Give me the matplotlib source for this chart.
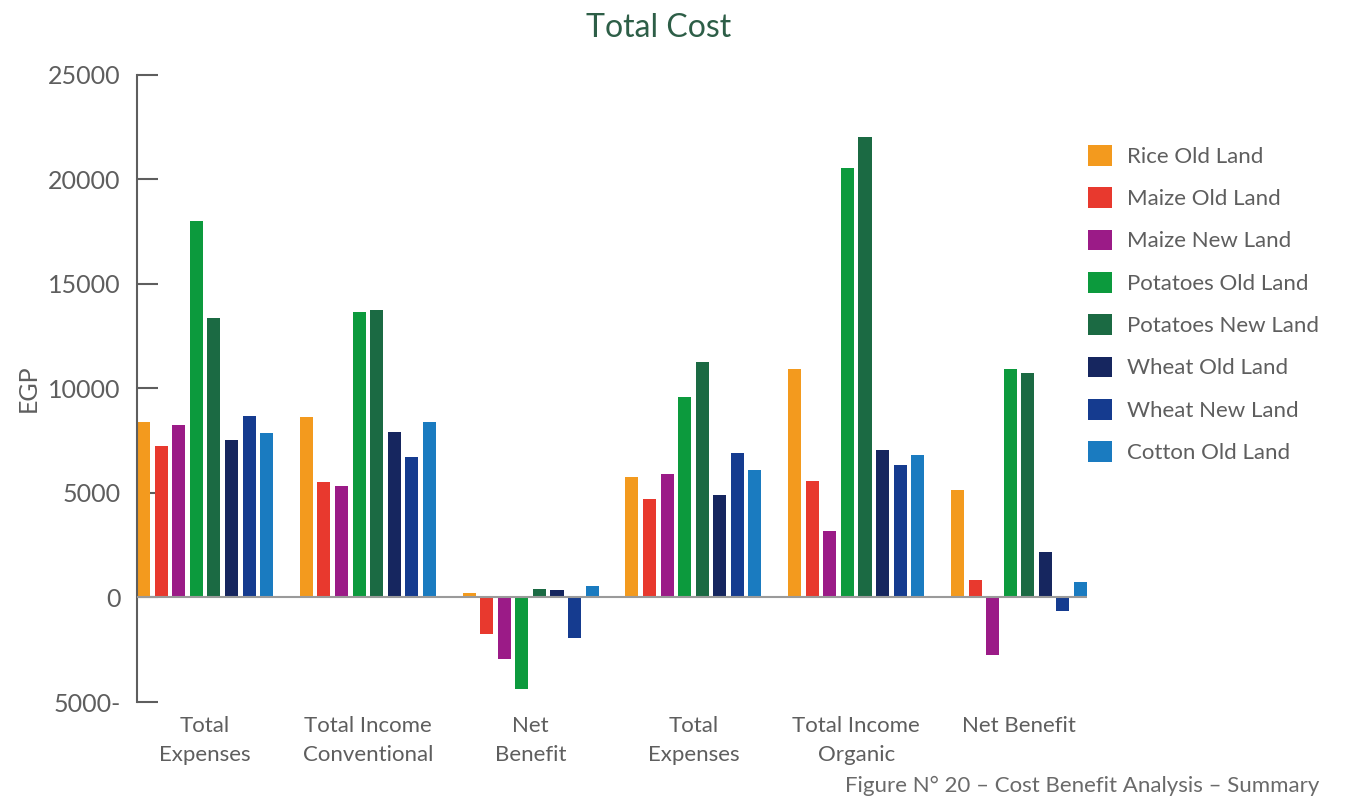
import numpy as np
import matplotlib.pyplot as plt

plt.rcParams['font.family'] = ['Lato', 'DejaVu Sans']

groups = ["Total\nExpenses", "Total Income\nConventional", "Net\nBenefit",
          "Total\nExpenses", "Total Income\nOrganic", "Net Benefit"]

series = ["Rice Old Land", "Maize Old Land", "Maize New Land", "Potatoes Old Land",
          "Potatoes New Land", "Wheat Old Land", "Wheat New Land", "Cotton Old Land"]

colors = ["#f39a1e", "#e8392e", "#9b1b87", "#0c9a3d",
          "#1b6a43", "#16265f", "#153b8f", "#1a7bc0"]

# values per series, one entry per group
rice_old = [8380, 8620, 200, 5770, 10910, 5120]
maize_old = [7230, 5510, -1730, 4700, 5560, 850]
maize_new = [8260, 5350, -2920, 5910, 3170, -2760]
potatoes_old = [18030, 13650, -4400, 9580, 20550, 10950]
potatoes_new = [13370, 13750, 400, 11250, 22020, 10750]
wheat_old = [7530, 7900, 360, 4880, 7060, 2180]
wheat_new = [8680, 6740, -1920, 6920, 6350, -630]
cotton_old = [7880, 8380, 540, 6110, 6820, 730]

values = [rice_old, maize_old, maize_new, potatoes_old,
          potatoes_new, wheat_old, wheat_new, cotton_old]

yticks = [-5000, 0, 5000, 10000, 15000, 20000, 25000]
ytick_labels = ["5000-", "0", "5000", "10000", "15000", "20000", "25000"]

grey = "#5e5e5e"
pitch = 0.108
width = 0.08

fig = plt.figure(figsize=(13.46, 8), dpi=100)
ax = fig.add_axes([0.1018, 0.1225, 0.7058, 0.7838])

x = np.arange(len(groups))
for j, (name, vals, col) in enumerate(zip(series, values, colors)):
    ax.bar(x + (j - 3.5) * pitch, vals, width=width, color=col, label=name, zorder=2)

ax.axhline(0, color="#9a9a9a", lw=1.5, zorder=3)

ax.set_xlim(-3.5 * pitch - width / 2, len(groups) - 1 + 3.5 * pitch + width / 2)
ax.set_ylim(-5000, 25000)
ax.set_yticks(yticks)
ax.set_yticklabels(ytick_labels)
ax.set_xticks(x)
ax.set_xticklabels(groups, fontsize=16, color=grey, linespacing=1.55)
ax.tick_params(axis="x", length=0, pad=10)
ax.tick_params(axis="y", direction="in", length=15, width=1.5, color=grey,
               labelsize=18, labelcolor=grey, pad=12)

for s in ["top", "right", "bottom"]:
    ax.spines[s].set_visible(False)
ax.spines["left"].set_color(grey)
ax.spines["left"].set_linewidth(1.5)

ax.set_ylabel("EGP", fontsize=18, color=grey, labelpad=6)

ax.legend(loc="upper left", bbox_to_anchor=(0.802, 0.83), bbox_transform=fig.transFigure,
          frameon=False, fontsize=16, labelcolor=grey, handlelength=1.05, handleheight=1.05,
          handletextpad=0.7, labelspacing=0.92, borderaxespad=0)

fig.text(0.489, 0.965, "Total Cost", ha="center", va="center", fontsize=23, color="#2d5e47")
fig.text(0.98, 0.018, "Figure N° 20 – Cost Benefit Analysis – Summary", ha="right",
         va="center", fontsize=16, color="#6a6a6a")

fig.savefig("out.png", dpi=100)
